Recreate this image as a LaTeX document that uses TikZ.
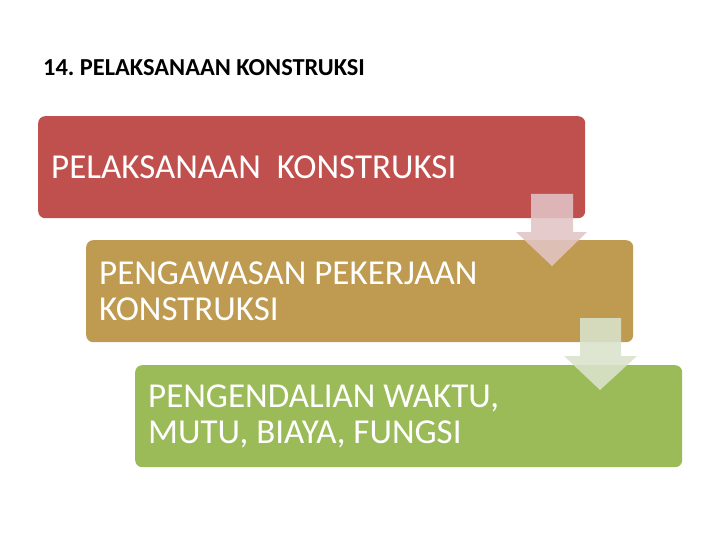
\documentclass[tikz,border=0pt]{standalone}
\usepackage{fontspec}
\setmainfont{Carlito}
\usetikzlibrary{positioning}
\definecolor{stepred}{HTML}{C0504D}
\definecolor{stepgold}{HTML}{BF9B51}
\definecolor{stepgreen}{HTML}{9BBB59}
\definecolor{arrowred}{RGB}{226,196,197}
\definecolor{arrowgreen}{RGB}{218,227,204}
\tikzset{
  stepbox/.style={draw=none, rounded corners=7pt, anchor=north west,
    minimum width=547pt, minimum height=102pt, text width=521pt,
    inner xsep=13pt, align=flush left, text=white,
    font=\fontsize{35}{36}\selectfont},
  downarrow/.style={opacity=0.88, draw=none}
}
\frenchspacing
\begin{document}
\begin{tikzpicture}[x=1pt,y=-1pt]
  \useasboundingbox (0,0) rectangle (720,540);
  % title
  \node[anchor=base west, inner sep=0pt, font=\fontsize{24.4}{28}\selectfont\bfseries] (title) at (43,76) {14. PELAKSANAAN KONSTRUKSI};
  % steps
  \node[stepbox, fill=stepred] (konstruksi) at (38,116) {PELAKSANAAN\ \ KONSTRUKSI};
  \node[stepbox, fill=stepgold] (pengawasan) at (86,240) {PENGAWASAN PEKERJAAN\\KONSTRUKSI};
  \node[stepbox, fill=stepgreen] (pengendalian) at (135,365) {PENGENDALIAN WAKTU,\\MUTU, BIAYA, FUNGSI};
  % arrows between steps
  \fill[downarrow, fill=arrowred] (531,194) -- (573,194) -- (573,232) -- (587,232)
    -- (552,266) -- (516,232) -- (531,232) -- cycle;
  \fill[downarrow, fill=arrowgreen] (580,318) -- (621,318) -- (621,356) -- (637,356)
    -- (600,390) -- (564,356) -- (580,356) -- cycle;
\end{tikzpicture}
\end{document}
